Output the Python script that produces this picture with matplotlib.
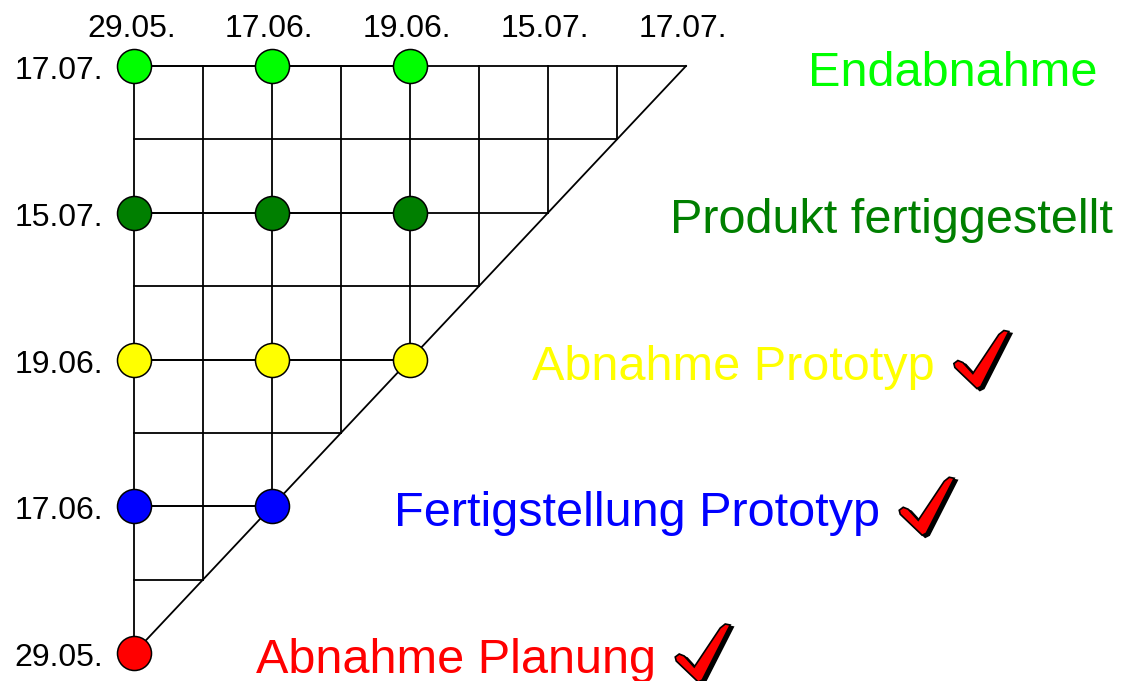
import matplotlib
matplotlib.use("Agg")
import matplotlib.pyplot as plt
import numpy as np
from matplotlib.patches import Polygon
from matplotlib.transforms import Affine2D, ScaledTranslation

plt.rcParams['font.family'] = ['Liberation Sans', 'DejaVu Sans']

# report dates (x) and milestone dates (y), same list
dates = ["29.05.", "17.06.", "19.06.", "15.07.", "17.07."]

milestones = ["Abnahme Planung", "Fertigstellung Prototyp", "Abnahme Prototyp",
              "Produkt fertiggestellt", "Endabnahme"]
colors = ["#ff0000", "#0000ff", "#ffff00", "#007f00", "#00ff00"]
# forecast (index into dates) at each report date
forecasts = [
    [0],
    [1, 1],
    [2, 2, 2],
    [3, 3, 3],
    [4, 4, 4],
]
done = [True, True, True, False, False]

W, H = 1124, 681
fig = plt.figure(figsize=(W / 100, H / 100), dpi=100)
ax = fig.add_axes([134 / W, 28 / H, 552 / W, 587 / H])
ax.set_xlim(0, 4)
ax.set_ylim(0, 4)
ax.axis("off")

lw = 1.3
n = len(dates) - 1
steps = np.arange(0, n + 0.01, 0.5)
# grid: triangle with half steps
for s in steps:
    ax.plot([0, s], [s, s], color="black", lw=lw, clip_on=False, zorder=1)
    ax.plot([s, s], [s, n], color="black", lw=lw, clip_on=False, zorder=1)
ax.plot([0, n], [0, n], color="black", lw=lw, clip_on=False, zorder=1)

for i, d in enumerate(dates):
    ax.annotate(d, xy=(i, n), xytext=(-2, 21), textcoords="offset points",
                ha="center", va="baseline", fontsize=23, annotation_clip=False)
    ax.annotate(d, xy=(0, i), xytext=(-22, -9.5), textcoords="offset points",
                ha="right", va="baseline", fontsize=23, annotation_clip=False)

# check mark shape in pixels, tip at (0, 0), y down
check = np.array([(0, 0), (-22, -21), (-23, -25), (-19, -28), (-14, -26),
                  (-4, -15), (22, -54), (27, -58), (32, -57), (4, -2)], float)

fig.canvas.draw()
renderer = fig.canvas.get_renderer()

for k, (name, col, fc) in enumerate(zip(milestones, colors, forecasts)):
    xs = np.arange(len(fc))
    ax.plot(xs, fc, color="black", lw=lw, zorder=2, clip_on=False)
    ax.plot(xs, fc, "o", ms=24.5, mfc=col, mec="black", mew=1.1,
            zorder=3, clip_on=False)
    t = ax.annotate(name, xy=(k, k), xytext=(88, -14.4), textcoords="offset points",
                    ha="left", va="baseline", fontsize=35, color=col,
                    annotation_clip=False)
    if done[k]:
        bb = t.get_window_extent(renderer)
        tip_x = bb.x1 + 42
        tip_y = ax.transData.transform((k, k))[1] - 29
        for off, fcol, z in [((3, 2), "black", 4), ((0, 0), "#ff0000", 5)]:
            tr = (Affine2D().scale(1, -1).translate(tip_x + off[0], tip_y - off[1]))
            p = Polygon(check, closed=True, facecolor=fcol, edgecolor="black",
                        lw=1.2, transform=tr, zorder=z, clip_on=False)
            fig.add_artist(p)

fig.savefig("out.png", dpi=100)
